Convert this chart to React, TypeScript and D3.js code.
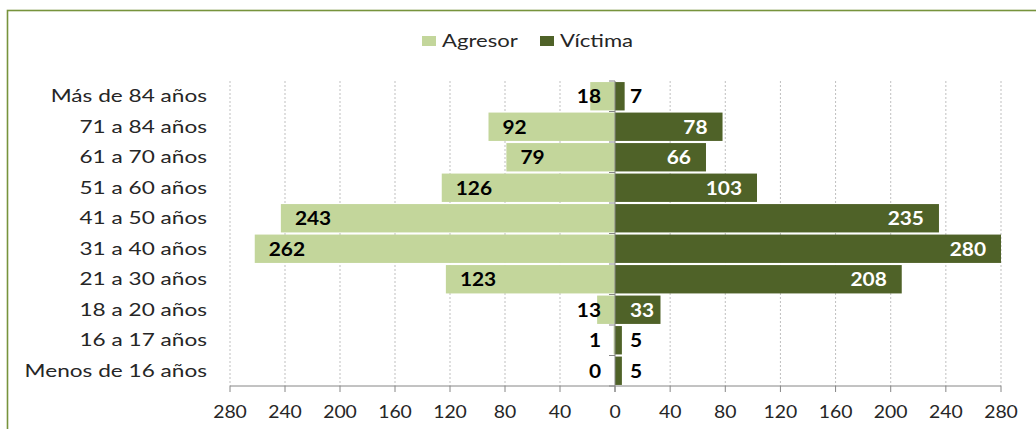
import React from "react";
import * as d3 from "d3";

const categories = [
  "Más de 84 años",
  "71 a 84 años",
  "61 a 70 años",
  "51 a 60 años",
  "41 a 50 años",
  "31 a 40 años",
  "21 a 30 años",
  "18 a 20 años",
  "16 a 17 años",
  "Menos de 16 años",
];
const agresor = [18, 92, 79, 126, 243, 262, 123, 13, 1, 0];
const victima = [7, 78, 66, 103, 235, 280, 208, 33, 5, 5];
const tickValues = [0, 40, 80, 120, 160, 200, 240, 280];
const seriesNames = ["Agresor", "Víctima"];

const W = 1036;
const H = 429;
const C_AGR = "#c3d69b";
const C_VIC = "#4f6228";
const FONT = "Lato, 'Open Sans', sans-serif";

function SText(props: {
  x: number;
  y: number;
  sx: number;
  anchor?: string;
  size: number;
  weight?: string | number;
  fill?: string;
  children: React.ReactNode;
}) {
  const { x, y, sx, anchor = "start", size, weight = "normal", fill = "#262626" } = props;
  return (
    <g transform={`translate(${x},${y}) scale(${sx},1)`}>
      <text
        x={0}
        y={0}
        textAnchor={anchor}
        fontFamily={FONT}
        fontSize={size}
        fontWeight={weight}
        fill={fill}
      >
        {props.children}
      </text>
    </g>
  );
}

export default function App() {
  const x0 = 615;
  const xL = d3.scaleLinear().domain([0, 280]).range([x0, 230]);
  const xR = d3.scaleLinear().domain([0, 280]).range([x0, 1001]);
  const y = d3
    .scaleBand<string>()
    .domain(categories)
    .range([81, 386])
    .paddingInner(0.07)
    .paddingOuter(0.035);
  const top = 81;
  const bottom = 386;
  const step = y.step();

  const valSize = 18.5;
  const valSx = 1.13;
  const digitW = 0.58 * valSize * valSx;

  return (
    <svg width={W} height={H} style={{ position: "absolute", left: 0, top: 0 }}>
      <rect x={0} y={0} width={W} height={H} fill="#fff" />
      <rect x={7.5} y={10.5} width={1200} height={600} fill="none" stroke="#77933c" strokeWidth={1.6} />

      {/* legend */}
      <rect x={422} y={36} width={14} height={10} fill={C_AGR} />
      <SText x={442} y={46.5} sx={1.3} size={17}>{seriesNames[0]}</SText>
      <rect x={540} y={36} width={14} height={10} fill={C_VIC} />
      <SText x={560} y={46.5} sx={1.3} size={17}>{seriesNames[1]}</SText>

      {/* gridlines */}
      {tickValues
        .filter((t) => t !== 0)
        .map((t) => (
          <g key={"g" + t}>
            <line x1={xL(t)} x2={xL(t)} y1={top} y2={bottom} stroke="#bfbfbf" strokeDasharray="2,2" />
            <line x1={xR(t)} x2={xR(t)} y1={top} y2={bottom} stroke="#bfbfbf" strokeDasharray="2,2" />
          </g>
        ))}

      {/* bars */}
      {categories.map((c, i) => (
        <g key={"b" + c}>
          <rect
            x={xL(agresor[i])}
            y={y(c)!}
            width={x0 - xL(agresor[i])}
            height={y.bandwidth()}
            fill={C_AGR}
          />
          <rect
            x={x0}
            y={y(c)!}
            width={xR(victima[i]) - x0}
            height={y.bandwidth()}
            fill={C_VIC}
          />
        </g>
      ))}

      {/* vertical axis at 0 */}
      <line x1={x0} x2={x0} y1={top} y2={bottom} stroke="#868686" />
      {d3.range(categories.length + 1).map((k) => (
        <line
          key={"vt" + k}
          x1={x0 - 6}
          x2={x0}
          y1={top + k * step}
          y2={top + k * step}
          stroke="#868686"
        />
      ))}

      {/* horizontal axis */}
      <line x1={xL(280)} x2={xR(280)} y1={bottom} y2={bottom} stroke="#868686" />
      {tickValues.map((t) => (
        <g key={"t" + t}>
          <line x1={xL(t)} x2={xL(t)} y1={bottom} y2={bottom + 6} stroke="#868686" />
          <line x1={xR(t)} x2={xR(t)} y1={bottom} y2={bottom + 6} stroke="#868686" />
          <SText x={xL(t)} y={417.5} sx={1.14} anchor="middle" size={17}>{t}</SText>
          {t !== 0 && (
            <SText x={xR(t)} y={417.5} sx={1.14} anchor="middle" size={17}>{t}</SText>
          )}
        </g>
      ))}

      {/* category labels */}
      {categories.map((c) => (
        <SText key={"c" + c} x={207} y={y(c)! + y.bandwidth() / 2 + 6} sx={1.33} anchor="end" size={17}>
          {c}
        </SText>
      ))}

      {/* value labels */}
      {categories.map((c, i) => {
        const cy = y(c)! + y.bandwidth() / 2 + 7;
        const a = agresor[i];
        const v = victima[i];
        const aw = String(a).length * digitW;
        const vw = String(v).length * digitW;
        const aEnd = xL(a);
        let aLabel;
        if (aEnd + 14 + aw <= x0 - 14) {
          aLabel = (
            <SText x={aEnd + 14} y={cy} sx={valSx} size={valSize} weight="bold" fill="#000">{a}</SText>
          );
        } else {
          aLabel = (
            <SText x={x0 - 14} y={cy} sx={valSx} anchor="end" size={valSize} weight="bold" fill="#000">{a}</SText>
          );
        }
        const vEnd = xR(v);
        let vLabel;
        if (vEnd - 15 - vw >= x0 + 15) {
          vLabel = (
            <SText x={vEnd - 15} y={cy} sx={valSx} anchor="end" size={valSize} weight="bold" fill="#fff">{v}</SText>
          );
        } else {
          const inside = vEnd > x0 + 15 + vw;
          vLabel = (
            <SText x={x0 + 15} y={cy} sx={valSx} size={valSize} weight="bold" fill={inside ? "#fff" : "#000"}>{v}</SText>
          );
        }
        return (
          <g key={"v" + c}>
            {aLabel}
            {vLabel}
          </g>
        );
      })}
    </svg>
  );
}
